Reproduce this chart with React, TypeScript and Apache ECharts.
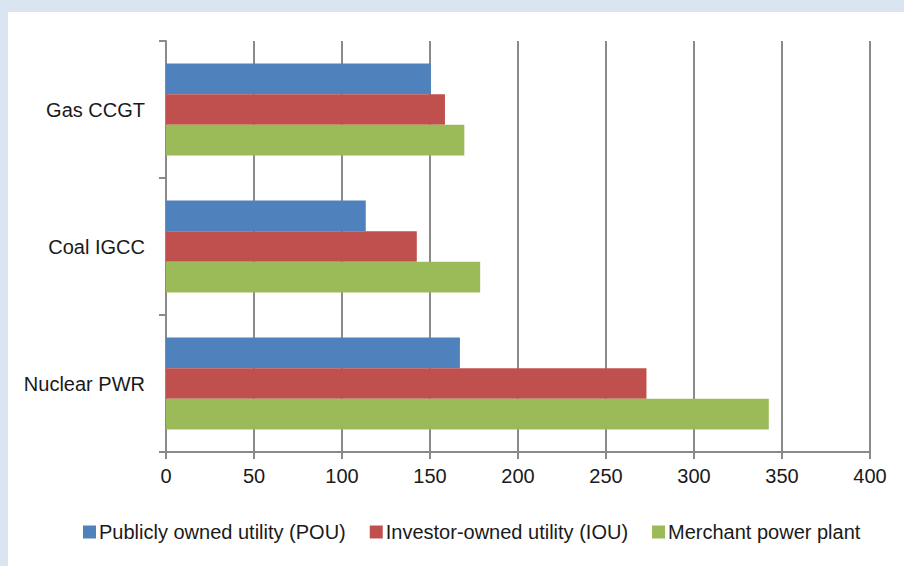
import React, { useEffect, useRef } from "react";
import * as echarts from "echarts";

const categories = ["Nuclear PWR", "Coal IGCC", "Gas CCGT"];
const seriesNames = [
  "Publicly owned utility (POU)",
  "Investor-owned utility (IOU)",
  "Merchant power plant",
];
const pouValues = [167, 113.5, 150.5];
const iouValues = [273, 142.5, 158.5];
const merchantValues = [342.5, 178.5, 169.5];
const xTicks = { min: 0, max: 400, interval: 50 };

const FONT = "'Liberation Sans Narrow', 'Arial Narrow', 'Liberation Sans', sans-serif";

export default function App() {
  const ref = useRef<HTMLDivElement>(null);
  useEffect(() => {
    if (!ref.current) return;
    const chart = echarts.init(ref.current, undefined, { renderer: "svg" });
    const colors = ["#4f81bd", "#c0504d", "#9bbb59"];
    const data = [pouValues, iouValues, merchantValues];
    chart.setOption({
      animation: false,
      backgroundColor: "#ffffff",
      textStyle: { fontFamily: FONT },
      grid: { left: 158, top: 29, right: 34, bottom: 114, containLabel: false },
      legend: {
        bottom: 19,
        left: 70,
        itemWidth: 13,
        itemHeight: 13,
        itemGap: 24,
        icon: "rect",
        textStyle: { fontFamily: FONT, fontSize: 20, color: "#1a1a1a", padding: [0, 0, 0, -2] },
        data: seriesNames,
      },
      xAxis: {
        type: "value",
        min: xTicks.min,
        max: xTicks.max,
        interval: xTicks.interval,
        axisLine: { show: true, lineStyle: { color: "#8a8a8a", width: 2 } },
        axisTick: { show: true, length: 7, lineStyle: { color: "#8a8a8a", width: 2 } },
        axisLabel: { fontFamily: FONT, fontSize: 20, color: "#1a1a1a", margin: 14 },
        splitLine: { show: true, lineStyle: { color: "#8a8a8a", width: 2 } },
      },
      yAxis: {
        type: "category",
        data: categories,
        axisLine: { show: true, lineStyle: { color: "#8a8a8a", width: 2 } },
        axisTick: { show: true, length: 7, lineStyle: { color: "#8a8a8a", width: 2 } },
        axisLabel: { fontFamily: FONT, fontSize: 20, color: "#1a1a1a", margin: 21 },
      },
      series: seriesNames.map((name, i) => ({
        name,
        type: "bar",
        data: data[i],
        barGap: "0%",
        barCategoryGap: "33%",
        itemStyle: { color: colors[i] },
      })),
    });
    return () => chart.dispose();
  }, []);
  return (
    <div
      style={{
        position: "fixed",
        left: 0,
        top: 0,
        width: 904,
        height: 566,
        background: "#dbe5f1",
      }}
    >
      <div
        ref={ref}
        style={{ position: "absolute", left: 8, top: 12, width: 896, height: 554, background: "#fff" }}
      />
    </div>
  );
}
